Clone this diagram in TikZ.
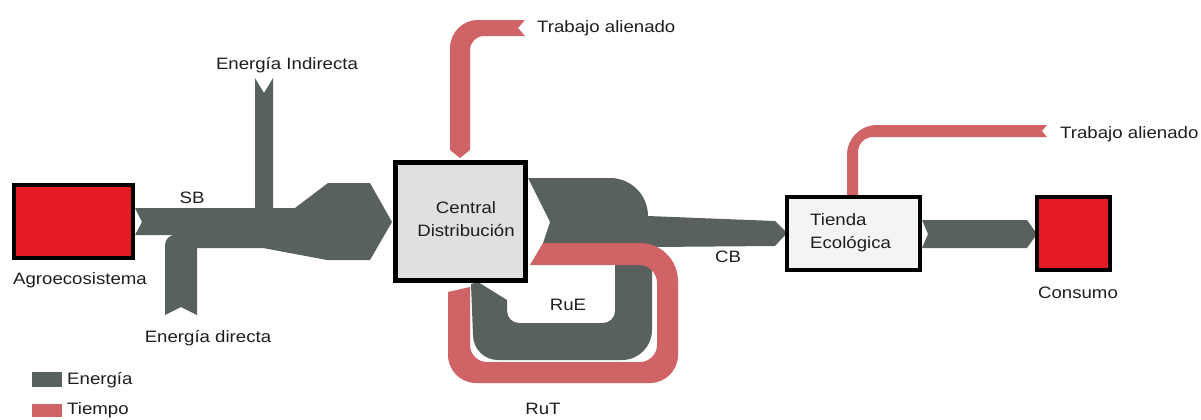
\documentclass[tikz,border=0pt]{standalone}
\usepackage{fontspec}
\setmainfont[FakeStretch=1.13]{Liberation Sans}
\definecolor{gris}{RGB}{88,97,94}
\definecolor{rosa}{RGB}{207,99,101}
\definecolor{rojo}{RGB}{228,27,36}
\definecolor{cajagris}{RGB}{224,224,224}
\definecolor{cajaclara}{RGB}{244,244,244}
\definecolor{txt}{RGB}{30,30,30}
\begin{document}
\begin{tikzpicture}[x=1bp,y=-1bp,
  every node/.style={font=\fontsize{16.5bp}{23bp}\selectfont, text=txt, inner sep=0pt},
  caja/.style={draw=black, line width=4bp},
  energia/.style={fill=gris},
  tiempo/.style={fill=rosa}]
\useasboundingbox (0,0) rectangle (1201,419);

% ---- Energy flows (grey) ----
% SB with direct and indirect energy
\path[energia] (135,208) -- (255,208) -- (255,78) -- (264,93) -- (273,78) -- (273,208)
  -- (295,208) -- (328,183) -- (370,183) -- (392,222) -- (370,260) -- (327,260)
  -- (263,248) -- (197,248) -- (197,315) -- (181,307) -- (165,315) -- (165,245)
  arc[start angle=180,end angle=270,radius=10] -- (135,235) -- (142,222) -- cycle;
% CB and RuE
\path[energia] (528,178) -- (610,178) arc[start angle=-90,end angle=0,radius=38]
  -- (775,221) -- (787,233) -- (775,246) -- (652,247)
  -- (652,330) arc[start angle=0,end angle=90,radius=30]
  -- (498,360) arc[start angle=90,end angle=180,radius=25]
  -- (471,284) -- (478,282) -- (507,300)
  -- (507,311) arc[start angle=180,end angle=90,radius=12]
  -- (603,323) arc[start angle=90,end angle=0,radius=12]
  -- (615,252) -- (540,252) -- (550,222) -- cycle;
% Tienda -> Consumo
\path[energia] (922,220) -- (1027,220) -- (1037,234) -- (1027,248) -- (922,248) -- (928,234) -- cycle;

% ---- Time flows (pink) ----
% RuT loop
\path[tiempo] (543,243) -- (640,243) arc[start angle=-90,end angle=0,radius=38]
  -- (678,355) arc[start angle=0,end angle=90,radius=28]
  -- (476,383) arc[start angle=90,end angle=180,radius=28]
  -- (448,292) -- (470,287)
  -- (470,345) arc[start angle=180,end angle=90,radius=17]
  -- (640,362) arc[start angle=90,end angle=0,radius=17]
  -- (657,283) arc[start angle=0,end angle=-90,radius=18]
  -- (530,265) -- cycle;
% Trabajo alienado -> Central
\path[tiempo] (450,150) -- (460,158) -- (470,150) -- (470,50)
  arc[start angle=180,end angle=270,radius=14]
  -- (525,36) -- (518,28) -- (525,20) -- (478,20)
  arc[start angle=-90,end angle=-180,radius=28] -- cycle;
% Trabajo alienado -> Tienda
\path[tiempo] (847,195) -- (847,155) arc[start angle=180,end angle=270,radius=30]
  -- (1047,125) -- (1042,131) -- (1047,137) -- (873,137)
  arc[start angle=270,end angle=180,radius=15] -- (858,196) -- (852,198) -- cycle;

% ---- Boxes ----
\node[caja, fill=rojo, minimum width=119bp, minimum height=73bp] (agro) at (73.5,221.5) {};
\node[caja, line width=5bp, fill=cajagris, minimum width=130bp, minimum height=118bp] (central) at (460.5,221.5) {};
\node[caja, fill=cajaclara, minimum width=133bp, minimum height=73bp] (tienda) at (853.5,233.5) {};
\node[caja, fill=rojo, minimum width=73bp, minimum height=73bp] (consumo) at (1073.5,233.5) {};

% ---- Texts ----
\node (tcentral) at (466,219) [align=center] {Central\\Distribución};
\node (ttienda) at (810,233) [anchor=west, align=left] {Tienda\\Ecológica};
\node (tagro) at (80,280) {Agroecosistema};
\node (tsb) at (192,198) {SB};
\node (tind) at (287,65) {Energía Indirecta};
\node (tdir) at (208,338) {Energía directa};
\node (ttrab1) at (537,28) [anchor=west] {Trabajo alienado};
\node (true) at (568,305) {RuE};
\node (tcb) at (728,257) {CB};
\node (trut) at (543,409) {RuT};
\node (ttrab2) at (1060,134) [anchor=west] {Trabajo alienado};
\node (tcons) at (1078,293) {Consumo};

% ---- Legend ----
\node[fill=gris, minimum width=30bp, minimum height=15bp] (lege) at (47,379.5) {};
\node[fill=rosa, minimum width=30bp, minimum height=13bp] (legt) at (47,410.5) {};
\node (tlege) at (67,380) [anchor=west] {Energía};
\node (tlegt) at (67,410) [anchor=west] {Tiempo};
\end{tikzpicture}
\end{document}
